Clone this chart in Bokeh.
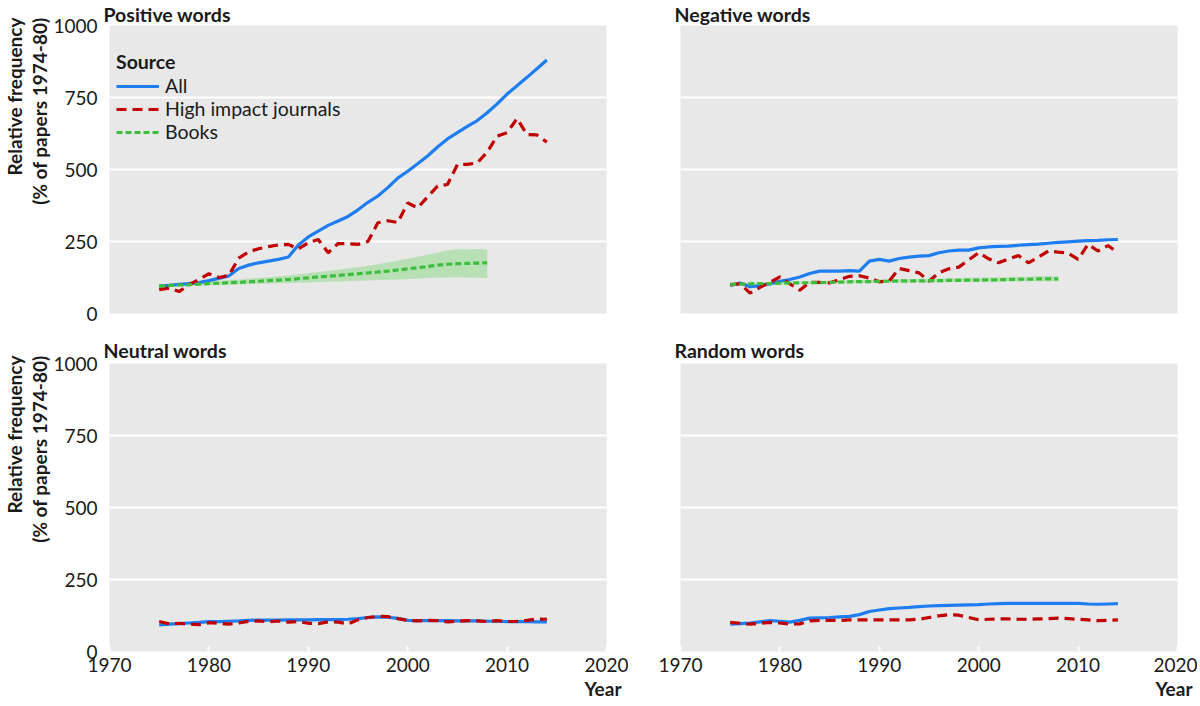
from bokeh.plotting import figure
from bokeh.layouts import column, row
from bokeh.models import Title, Legend, LegendItem, FixedTicker, Range1d
from bokeh.embed import file_html
from bokeh.resources import INLINE

# ---------------- data ----------------
years = list(range(1975, 2015))
book_years = list(range(1975, 2009))

pos_all = [95, 98, 101, 104, 107, 114, 122, 130, 156, 168,
           176, 182, 188, 196, 238, 266, 286, 306, 321, 337,
           360, 386, 408, 437, 470, 494, 520, 547, 578, 606,
           628, 650, 670, 697, 728, 762, 791, 820, 850, 880]
pos_high = [83, 88, 76, 100, 118, 138, 125, 132, 192, 214,
            225, 232, 238, 240, 224, 246, 257, 211, 243, 242,
            240, 250, 315, 322, 316, 384, 367, 405, 442, 448,
            517, 518, 523, 560, 616, 628, 677, 621, 620, 595]
pos_books = [95, 97, 99, 100, 102, 104, 105, 107, 108, 110,
             112, 114, 116, 118, 121, 124, 127, 129, 132, 135,
             138, 141, 144, 147, 151, 155, 159, 163, 168, 171,
             173, 174, 175, 176]
pos_books_hi = [100, 102, 104, 106, 108, 111, 113, 116, 118, 121,
                123, 126, 129, 132, 136, 140, 144, 148, 152, 156,
                161, 166, 171, 177, 183, 190, 197, 204, 212, 219,
                223, 222, 224, 222]
pos_books_lo = [91, 93, 94, 95, 97, 98, 99, 100, 101, 102,
                103, 104, 105, 106, 107, 108, 109, 110, 111, 112,
                114, 115, 116, 117, 118, 120, 121, 123, 124, 125,
                126, 125, 124, 123]

neg_all = [97, 106, 93, 97, 103, 112, 118, 127, 139, 147,
           147, 147, 149, 147, 182, 188, 182, 191, 196, 199,
           201, 211, 217, 220, 220, 228, 231, 233, 234, 237,
           239, 241, 244, 247, 249, 251, 253, 254, 256, 257]
neg_high = [100, 103, 71, 91, 108, 127, 103, 81, 108, 108,
            106, 118, 129, 131, 123, 110, 113, 156, 149, 141,
            112, 142, 155, 161, 186, 211, 190, 176, 190, 201,
            176, 195, 217, 213, 210, 188, 240, 217, 236, 211]
neg_books = [101, 102, 103, 104, 104, 105, 106, 106, 107, 107,
             108, 109, 110, 111, 111, 112, 112, 113, 113, 113,
             114, 114, 115, 115, 116, 116, 117, 117, 118, 119,
             119, 120, 120, 120]
neg_books_hi = [105, 106, 107, 108, 108, 109, 110, 110, 111, 112,
                113, 114, 115, 116, 116, 117, 118, 119, 119, 120,
                121, 121, 122, 123, 124, 124, 125, 126, 127, 128,
                128, 129, 129, 129]
neg_books_lo = [97, 98, 99, 100, 100, 101, 101, 102, 102, 103,
                103, 104, 105, 105, 106, 106, 107, 107, 107, 108,
                108, 108, 109, 109, 109, 110, 110, 110, 111, 111,
                112, 112, 112, 112]

neu_all = [92, 95, 97, 99, 101, 104, 104, 105, 106, 108,
           109, 109, 109, 110, 110, 110, 111, 111, 111, 112,
           114, 118, 120, 119, 115, 108, 107, 107, 107, 107,
           106, 106, 106, 105, 105, 104, 104, 104, 103, 103]
neu_high = [104, 96, 98, 95, 93, 100, 98, 95, 99, 105,
            106, 103, 106, 102, 104, 98, 97, 103, 102, 96,
            110, 118, 122, 121, 114, 108, 106, 108, 107, 103,
            105, 107, 106, 104, 107, 104, 105, 108, 113, 112]

ran_all = [95, 97, 99, 103, 107, 105, 102, 108, 116, 117,
           118, 120, 122, 128, 139, 144, 149, 151, 153, 156,
           158, 159, 160, 161, 162, 163, 165, 166, 167, 167,
           167, 167, 167, 167, 167, 167, 165, 164, 165, 166]
ran_high = [101, 98, 95, 98, 101, 99, 95, 96, 106, 108,
            108, 108, 110, 110, 110, 110, 110, 110, 110, 112,
            118, 124, 128, 126, 118, 110, 112, 113, 113, 112,
            112, 113, 114, 116, 114, 112, 110, 107, 108, 110]

panel_titles = ["Positive words", "Negative words", "Neutral words", "Random words"]
series_names = ["All", "High impact journals", "Books"]
x_ticks = [1970, 1980, 1990, 2000, 2010, 2020]
y_ticks = [0, 250, 500, 750, 1000]
y_label_1 = "Relative frequency"
y_label_2 = "(% of papers 1974-80)"
x_label = "Year"

# ---------------- style ----------------
BG = "#e8e8e8"
BLUE = "#1e7df0"
RED = "#c00000"
GREEN = "#3cbe3c"
BAND = "#8fd88a"
FONT = "Lato"
TXT = "#1a1a1a"
FW = 497
FH = 288
FS = "19px"


def make_panel(title, left, top):
    p = figure(frame_width=FW, frame_height=FH,
               x_range=Range1d(1970, 2020), y_range=Range1d(0, 1000),
               output_backend="svg", toolbar_location=None, tools="")
    p.title.text = title
    p.title.align = "left"
    p.title.text_font = FONT
    p.title.text_font_size = "19.5px"
    p.title.text_font_style = "bold"
    p.title.text_color = TXT
    p.title.text_line_height = 1.0
    p.title.standoff = 0 if top else 4
    p.title.offset = -6
    p.background_fill_color = BG
    p.border_fill_color = "white"
    p.outline_line_color = None
    p.min_border_left = 96 if left else 52
    p.min_border_right = 22 if left else 20
    p.min_border_top = 18 if top else 28
    p.min_border_bottom = 21 if top else 46

    p.xgrid.visible = False
    p.ygrid.ticker = FixedTicker(ticks=[250, 500, 750])
    p.ygrid.grid_line_color = "white"
    p.ygrid.grid_line_width = 2

    xa = p.xaxis[0]
    if top:
        xa.visible = False
    else:
        xa.ticker = FixedTicker(ticks=x_ticks)
        xa.axis_line_color = None
        xa.major_tick_in = 5
        xa.major_tick_out = 0
        xa.major_tick_line_color = "white"
        xa.major_tick_line_width = 2
        xa.minor_tick_line_color = None
        xa.major_label_text_font = FONT
        xa.major_label_text_font_size = FS
        xa.major_label_text_color = TXT
        xa.major_label_standoff = 6

    ya = p.yaxis[0]
    ya.ticker = FixedTicker(ticks=y_ticks)
    ya.axis_line_color = None
    ya.major_tick_line_color = None
    ya.minor_tick_line_color = None
    ya.major_label_text_font = FONT
    ya.major_label_text_font_size = FS
    ya.major_label_text_color = TXT
    ya.major_label_standoff = 6
    if not left:
        ya.visible = False
    else:
        t2 = Title(text=y_label_2, align="right", text_font=FONT, text_font_size="19px",
                   text_font_style="bold", text_color=TXT, text_line_height=1.0,
                   offset=-8, standoff=0)
        t1 = Title(text=y_label_1, align="right", text_font=FONT, text_font_size="19px",
                   text_font_style="bold", text_color=TXT, text_line_height=1.0,
                   offset=-8, standoff=0)
        p.add_layout(t2, "left")
        p.add_layout(t1, "left")
    if not top:
        p.add_layout(Title(text=x_label, align="right", text_font=FONT, text_font_size="19px",
                           text_font_style="bold", text_color=TXT, text_line_height=1.0,
                           offset=-15, standoff=0), "below")
    return p


def draw(p, all_v, high_v, books=None, lo=None, hi=None):
    if books is not None:
        p.varea(x=book_years, y1=lo, y2=hi, fill_color=BAND, fill_alpha=0.55)
    r_all = p.line(years, all_v, line_color=BLUE, line_width=3.2)
    r_high = p.line(years, high_v, line_color=RED, line_width=3.2, line_dash="10 6")
    rs = [r_all, r_high]
    if books is not None:
        r_b = p.line(book_years, books, line_color=GREEN, line_width=3.2, line_dash="6 3")
        rs.append(r_b)
    return rs


p_pos = make_panel(panel_titles[0], True, True)
p_neg = make_panel(panel_titles[1], False, True)
p_neu = make_panel(panel_titles[2], True, False)
p_ran = make_panel(panel_titles[3], False, False)

rs = draw(p_pos, pos_all, pos_high, pos_books, pos_books_lo, pos_books_hi)
draw(p_neg, neg_all, neg_high, neg_books, neg_books_lo, neg_books_hi)
draw(p_neu, neu_all, neu_high)
draw(p_ran, ran_all, ran_high)

legend = Legend(items=[LegendItem(label=series_names[i], renderers=[rs[i]]) for i in range(3)],
                location=(7, 170), title="Source",
                title_text_font=FONT, title_text_font_size="19.5px", title_text_font_style="bold",
                title_text_color=TXT, title_standoff=1,
                label_text_font=FONT, label_text_font_size="19.5px", label_text_color=TXT,
                background_fill_alpha=0, border_line_color=None,
                padding=0, margin=0, spacing=0, glyph_width=43, label_standoff=6)
p_pos.add_layout(legend)

layout = column(row(p_pos, p_neg), row(p_neu, p_ran))

with open("out.html", "w") as f:
    f.write(file_html(layout, INLINE))
